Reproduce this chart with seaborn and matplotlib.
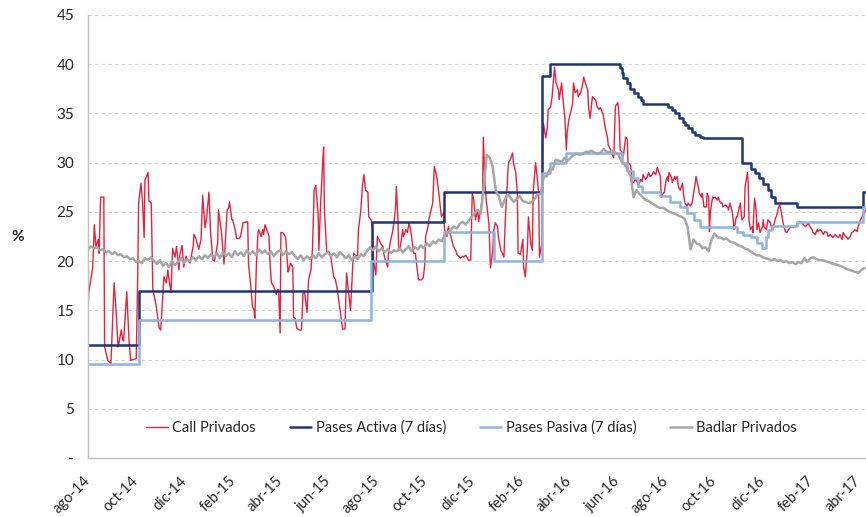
import numpy as np
import pandas as pd
import matplotlib
matplotlib.use("Agg")
import matplotlib.pyplot as plt
import seaborn as sns

# ---------------- data ----------------
start_date = "2014-08-01"

# Call Privados: days since 2014-08-01 and rate (%)
call_day = [0, 1, 6, 8, 10, 13, 14, 16, 20, 21, 25, 29, 33, 35, 38, 39, 42, 44, 45, 49, 52, 54, 57, 61, 63, 64, 67, 69, 71, 72,
            76, 77, 80, 82, 86, 90, 92, 96, 99, 101, 102, 105, 107, 110, 112, 115, 116, 119, 121, 124, 126, 129, 133, 134, 136,
            140, 143, 145, 148, 150, 153, 155, 158, 160, 164, 165,
            169, 172, 176, 178, 179, 182, 183, 186, 188, 191, 193, 196, 202, 203, 206, 208, 210, 211, 213, 215, 216, 219, 221,
            222, 224, 226, 229, 230, 232, 235, 238, 240, 241, 243, 244, 246, 248, 250, 253, 254, 256, 259, 260, 262, 264, 267,
            270, 272, 274, 277, 279, 282, 284, 286, 288, 291, 292, 294, 297, 298, 299, 302, 304, 307, 310, 311, 313, 316, 317,
            320, 322, 325, 327, 330, 332, 335,
            336, 339, 341, 342, 345, 347, 349, 351, 354, 355, 358, 360, 361, 364, 366, 368, 370, 373, 374, 376, 379, 380, 383,
            385, 387, 389, 390, 392, 393, 395, 398, 399, 402, 404, 406, 408, 411, 412, 414, 417, 418, 422, 424, 426, 427, 430,
            431, 433, 436, 437, 438, 441, 443, 445, 447, 450, 451, 454, 455, 456, 459, 461, 462, 465, 467, 469, 471, 474, 475,
            478, 480, 481, 484, 486, 488, 490, 493, 494,
            496, 499, 500, 502, 504, 507, 508, 509, 512, 513, 515, 518, 519, 522, 524, 526, 528, 531, 532, 534, 537, 538, 541,
            543, 544, 547, 550, 551, 553, 555, 556, 557, 560, 562, 563, 566, 568, 570, 571, 574, 575, 576, 579, 581, 582, 585,
            587, 589, 590, 592, 595, 596, 599, 600, 603, 605, 606, 608, 610, 613, 614, 616, 619, 620, 623, 625, 627, 629, 632,
            633, 635, 638, 639, 642, 644, 646, 648, 651, 652, 654, 657, 658,
            661, 663, 665, 667, 670, 671, 672, 673, 676, 677, 680, 682, 683, 686, 687, 688, 690, 692, 695, 696, 699, 701, 702,
            705, 707, 709, 711, 714, 715, 718, 720, 721, 724, 725, 726, 729, 731, 733, 734, 735, 738, 739, 742, 743, 745, 747,
            749, 752, 753, 755, 758, 759, 762, 764, 766, 768, 769, 772, 773, 776, 777, 779, 782, 783, 785, 786, 787, 790, 791,
            793, 796, 797, 800, 802, 803, 806, 809, 810, 812, 815, 816, 817, 820,
            821, 825, 827, 830, 831, 834, 835, 836, 838, 840, 841, 843, 845, 846, 848, 850, 853, 854, 855, 858, 860, 863, 865,
            867, 869, 872, 873, 875, 878, 879, 882, 884, 886, 888, 891, 892, 894, 897, 898, 901, 903, 905, 907, 910, 911, 913,
            916, 917, 920, 922, 923, 926, 929, 930, 932, 935, 936, 939, 941, 942, 945, 947, 949, 951, 954, 955, 958, 960, 961,
            964, 966, 968, 970, 973, 974, 977, 979, 982, 984]
call_val = [15.0, 16.8, 19.4, 23.7, 21.5, 22.2, 20.8, 26.5, 26.5, 11.3, 9.9, 9.6, 17.8, 15.6, 11.3, 11.6, 13.0, 12.0, 11.9, 16.9,
            11.8, 9.9, 10.0, 10.1, 19.1, 25.9, 27.9, 26.0, 22.4, 28.2, 29.0, 26.1, 25.9, 17.1, 15.6, 13.2, 13.0, 18.4, 17.8, 19.1,
            18.4, 16.8, 21.3, 20.4, 21.5, 19.1, 20.6, 21.6, 19.4, 20.5, 20.1, 19.8, 21.5, 22.7, 22.4, 21.2, 22.2, 26.7, 23.4, 24.4,
            27.0, 22.9, 20.1, 20.0, 21.8, 25.2,
            22.8, 19.7, 25.2, 25.4, 26.0, 24.2, 24.2, 23.2, 22.3, 22.3, 22.5, 23.9, 24.0, 19.7, 17.4, 15.4, 15.0, 14.2, 19.7, 22.9,
            23.2, 22.5, 23.2, 22.7, 23.7, 23.2, 22.5, 20.1, 17.8, 17.4, 16.6, 17.1, 17.1, 12.7, 22.9, 22.9, 22.7, 22.4, 18.9, 19.1,
            19.8, 19.4, 14.3, 14.2, 13.2, 13.0, 13.0, 16.8, 16.8, 14.8, 18.1, 19.1, 21.4, 27.2, 27.7, 24.9, 21.1, 25.5, 30.3, 31.6,
            25.3, 20.8, 21.0, 20.5, 18.8, 18.4, 18.1, 16.8, 16.1, 14.3, 13.1, 13.1, 18.8, 16.5, 15.0, 19.8,
            20.8, 20.5, 20.6, 23.2, 25.1, 27.6, 28.8, 27.2, 27.0, 24.5, 24.2, 23.2, 20.1, 18.6, 22.5, 22.2, 21.8, 21.5, 20.8, 20.1,
            19.4, 20.8, 22.2, 22.9, 23.9, 25.5, 27.6, 24.2, 21.1, 21.4, 23.2, 22.5, 23.2, 22.9, 23.9, 23.2, 21.4, 20.8, 20.8, 18.8,
            18.1, 18.1, 18.3, 19.7, 22.5, 23.5, 24.2, 24.9, 25.9, 27.7, 29.6, 28.6, 27.4, 25.9, 24.5, 24.9, 23.2, 22.5, 23.2, 23.5,
            22.5, 21.8, 21.5, 21.1, 20.6, 20.5, 20.3, 20.5, 20.4, 20.6, 20.3, 20.1, 20.1, 26.9, 26.2, 24.2, 25.2, 24.0,
            24.9, 26.5, 32.6, 27.9, 25.9, 23.9, 21.8, 19.3, 21.1, 23.0, 23.9, 23.5, 22.5, 21.1, 20.8, 20.4, 24.5, 29.0, 30.0, 30.3,
            31.0, 30.0, 29.0, 26.9, 20.8, 20.7, 22.2, 19.4, 18.4, 20.4, 21.8, 24.5, 21.8, 21.1, 26.9, 30.0, 28.6, 26.9, 20.4, 21.8,
            32.0, 34.0, 32.5, 33.6, 35.4, 35.6, 36.7, 38.7, 39.7, 38.1, 37.4, 36.4, 38.1, 37.1, 34.7, 31.3, 33.0, 34.3, 35.0, 36.0,
            38.1, 37.1, 37.4, 36.7, 37.1, 37.7, 38.7, 38.1, 37.4, 35.7, 34.5, 36.7, 36.6, 36.4, 35.7, 35.4, 35.6, 35.0, 34.7, 33.6,
            32.6, 31.8,
            31.3, 30.8, 30.5, 35.7, 36.1, 35.5, 34.1, 31.3, 31.0, 30.6, 32.6, 32.4, 30.0, 29.8, 29.3, 27.9, 28.0, 28.3, 28.0, 27.5,
            28.3, 28.1, 28.8, 28.3, 28.5, 29.0, 28.6, 28.8, 29.1, 28.8, 29.5, 29.3, 28.6, 26.5, 26.7, 27.0, 28.2, 28.6, 28.1, 29.0,
            28.5, 28.0, 28.6, 28.3, 28.6, 27.5, 27.2, 27.9, 26.9, 25.9, 25.6, 25.9, 25.6, 25.9, 26.9, 27.9, 28.6, 27.5, 26.9, 26.5,
            26.9, 25.5, 25.5, 26.9, 26.5, 23.0, 24.9, 26.5, 26.4, 26.5, 26.2, 26.5, 25.9, 25.9, 25.5, 25.7, 25.5, 25.2, 25.9, 24.9,
            24.2, 23.2, 24.5,
            24.5, 25.9, 24.2, 24.5, 27.5, 29.0, 28.0, 24.2, 23.2, 23.5, 22.9, 26.4, 25.2, 23.2, 23.9, 22.9, 23.5, 24.2, 23.5, 23.2,
            24.2, 23.9, 23.2, 23.5, 24.2, 24.9, 25.4, 25.7, 24.5, 23.9, 23.0, 22.9, 23.2, 23.4, 23.5, 23.4, 23.5, 23.7, 23.9, 24.0,
            23.9, 23.7, 23.5, 23.7, 23.9, 23.5, 23.2, 22.9, 22.7, 23.2, 23.0, 23.2, 22.9, 22.7, 23.0, 22.9, 22.5, 22.7, 22.5, 22.4,
            22.7, 22.5, 22.4, 22.7, 22.2, 22.9, 22.5, 22.4, 22.2, 22.5, 22.9, 23.0, 23.2, 23.0, 23.5, 24.2, 24.5, 24.9, 25.2]

# Pases Activa (7 dias): change days and rate
activa_day = [0, 64, 359, 450, 574, 584, 673, 676, 677, 682, 686, 690, 695, 699, 702, 734, 739, 743, 747, 752, 755, 759,
              764, 768, 774, 778, 827, 838, 844, 849, 854, 860, 864, 869, 897, 980, 984]
activa_val = [11.5, 17.0, 24.0, 27.0, 38.8, 40.0, 39.6, 39.1, 38.6, 38.1, 37.5, 37.1, 36.7, 36.4, 36.0, 35.7, 35.4, 35.0,
              34.5, 34.1, 33.8, 33.5, 33.1, 32.8, 32.6, 32.5, 30.0, 29.4, 28.9, 28.4, 27.8, 27.2, 26.5, 25.9, 25.5, 27.0, 27.0]

# Pases Pasiva (7 dias): change days and rate
pasiva_day = [0, 64, 358, 450, 514, 574, 584, 604, 675, 682, 689, 695, 701, 724, 736, 749, 758, 767, 774, 821, 829, 838,
              846, 853, 858, 860, 865, 897, 980, 984]
pasiva_val = [9.5, 14.0, 20.0, 23.0, 20.0, 29.0, 30.0, 31.0, 30.0, 29.2, 28.4, 27.6, 27.0, 26.6, 26.0, 25.5, 24.9, 24.2,
              23.5, 23.0, 22.7, 22.4, 21.8, 21.3, 22.4, 23.2, 23.6, 24.0, 25.5, 25.5]

# Badlar Privados: evenly spaced observations from 2014-08-01 to 2017-04-09
badlar_end = "2017-04-09"
badlar_val = [21.2, 21.5, 21.3, 21.4, 21.1, 21.2, 20.9, 21.0, 20.7, 20.9, 20.6, 20.7, 20.4, 20.5, 20.2, 20.3, 19.9, 20.0,
              19.8, 20.3, 20.1, 20.4, 20.0, 19.7, 20.1, 19.5, 19.8, 19.4, 20.0, 19.6, 19.9, 20.3, 19.8, 20.2, 20.0, 20.4,
              20.1, 20.5, 20.2, 20.6, 20.3, 20.7, 20.4, 20.8, 20.3, 20.9, 20.5, 20.8, 20.4, 21.0, 20.6, 20.9, 20.5, 21.1,
              20.7, 21.0, 20.6, 21.2, 20.8, 21.1, 20.7, 21.0, 20.5, 20.9, 21.1, 20.6, 21.0, 20.7, 20.9, 20.5, 20.2, 20.6,
              20.1, 20.5, 20.2, 20.6, 20.3, 20.8, 20.4, 20.7, 20.9, 20.5, 20.8, 20.4, 20.9, 20.6, 20.3, 20.6, 20.1, 20.5,
              20.2, 20.7, 20.5, 21.0, 21.4, 21.1, 21.5, 21.0, 21.3, 20.9, 21.2, 20.8, 21.1, 21.0, 21.3, 20.9, 21.2, 21.5,
              21.0, 21.4, 21.2, 21.6, 21.3, 21.8, 21.5, 22.0, 21.8, 22.2, 22.0, 22.6, 22.9, 23.2, 23.5, 23.3, 23.8, 24.0,
              23.7, 24.1, 24.5, 24.9, 25.2, 24.8,
              27.5, 30.8, 30.5, 29.6, 27.2, 26.6, 25.5, 26.2, 26.8, 26.4, 26.0, 26.3, 26.6, 26.1, 26.0, 25.9, 26.0, 26.3,
              26.8, 26.8, 28.6, 28.6, 29.3, 29.3, 30.3, 30.2, 30.1, 30.5, 30.2, 30.5, 30.8, 30.9, 30.8, 30.9, 31.1, 31.1,
              31.2, 31.0, 30.9, 31.0, 31.4, 31.1, 31.1, 31.2, 31.0, 30.8, 30.1, 29.8, 29.3, 28.7, 26.5, 27.2, 26.8, 26.5,
              26.2, 26.1, 25.9, 25.7, 25.5, 25.4, 25.4, 25.2, 25.0, 24.9, 24.8, 24.6, 24.5, 24.3, 23.5, 21.2, 22.2, 21.8,
              21.7, 21.3, 21.4, 21.0, 22.2, 22.8, 22.4, 22.4, 22.2, 22.3, 22.0, 21.9, 21.8, 21.6, 21.5, 21.3, 21.2, 21.0,
              20.8, 20.6, 20.6, 20.4, 20.3, 20.2, 20.1, 20.2, 20.0, 20.1, 19.9, 20.0, 19.8, 19.9, 19.7, 19.9, 19.8, 20.3,
              19.9, 20.3, 20.4, 20.2, 20.1, 20.1, 20.0, 19.9, 19.8, 19.7, 19.6, 19.5, 19.4, 19.2, 19.1, 19.0, 18.9, 18.8,
              19.1, 19.3]

xtick_dates = ["2014-08-01", "2014-10-01", "2014-12-01", "2015-02-01", "2015-04-01", "2015-06-01", "2015-08-01",
               "2015-10-01", "2015-12-01", "2016-02-01", "2016-04-01", "2016-06-01", "2016-08-01", "2016-10-01",
               "2016-12-01", "2017-02-01", "2017-04-01"]
xtick_labels = ["ago-14", "oct-14", "dic-14", "feb-15", "abr-15", "jun-15", "ago-15", "oct-15", "dic-15", "feb-16",
                "abr-16", "jun-16", "ago-16", "oct-16", "dic-16", "feb-17", "abr-17"]
ytick_vals = [0, 5, 10, 15, 20, 25, 30, 35, 40, 45]
ytick_labels = ["-", "5", "10", "15", "20", "25", "30", "35", "40", "45"]

series_names = ["Call Privados", "Pases Activa (7 días)", "Pases Pasiva (7 días)", "Badlar Privados"]
series_colors = ["#E3223D", "#1C3577", "#8DB3E2", "#A6A6A6"]

# ---------------- build frames ----------------
base = pd.Timestamp(start_date)
df_call = pd.DataFrame({"date": base + pd.to_timedelta(call_day, unit="D"), "val": call_val})
df_act = pd.DataFrame({"date": base + pd.to_timedelta(activa_day, unit="D"), "val": activa_val})
df_pas = pd.DataFrame({"date": base + pd.to_timedelta(pasiva_day, unit="D"), "val": pasiva_val})
df_bad = pd.DataFrame({"date": pd.date_range(start_date, badlar_end, periods=len(badlar_val)), "val": badlar_val})

# ---------------- plot ----------------
sns.set_theme(style="white")
plt.rcParams["font.family"] = ["Lato", "DejaVu Sans"]

fig = plt.figure(figsize=(8.66, 5.17), dpi=100)
ax = fig.add_axes([88 / 866, 1 - 458 / 517, (866 - 88) / 866, (458 - 15) / 517])

for yv in ytick_vals[1:]:
    ax.axhline(yv, color="#D4D4D4", lw=0.8, ls=(0, (3, 3)), zorder=0)

sns.lineplot(data=df_call, x="date", y="val", ax=ax, color=series_colors[0], lw=1.0, label=series_names[0])
sns.lineplot(data=df_act, x="date", y="val", ax=ax, color=series_colors[1], lw=1.8, drawstyle="steps-post",
             label=series_names[1])
sns.lineplot(data=df_pas, x="date", y="val", ax=ax, color=series_colors[2], lw=1.8, drawstyle="steps-post",
             label=series_names[2])
sns.lineplot(data=df_bad, x="date", y="val", ax=ax, color=series_colors[3], lw=1.8, label=series_names[3])

ax.set_xlim(base, base + pd.Timedelta(days=984))
ax.set_ylim(0, 45)
ax.set_xlabel("")
ax.set_ylabel("")

ax.set_yticks(ytick_vals)
ax.set_yticklabels(ytick_labels, fontsize=11, color="#262626")
ax.set_xticks(pd.to_datetime(xtick_dates))
ax.set_xticklabels(xtick_labels, rotation=45, ha="right", va="center", rotation_mode="anchor",
                   fontsize=10.5, color="#262626")

for side in ["top", "right"]:
    ax.spines[side].set_visible(False)
for side in ["left", "bottom"]:
    ax.spines[side].set_color("#BFBFBF")
    ax.spines[side].set_linewidth(1.0)
ax.tick_params(axis="both", which="major", direction="out", length=4, width=1.0, color="#BFBFBF")
ax.tick_params(axis="y", pad=6)
ax.tick_params(axis="x", pad=11)

leg = ax.legend(loc="center", bbox_to_anchor=(0.493, 0.068), ncol=4, frameon=False, fontsize=10.5,
                handlelength=1.5, handletextpad=0.3, columnspacing=2.3)
for t in leg.get_texts():
    t.set_color("#262626")

fig.text(18 / 866, 1 - 237 / 517, "%", fontsize=11, fontweight="bold", ha="center", va="center", color="#262626")

fig.savefig("out.png", dpi=100)
